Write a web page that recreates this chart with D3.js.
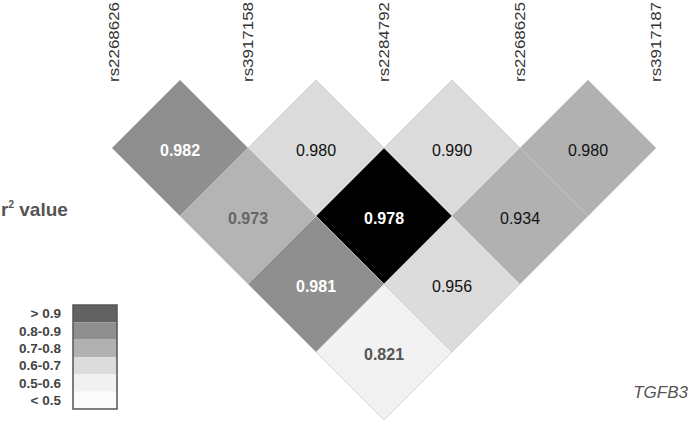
<!DOCTYPE html>
<html>
<head>
<meta charset="utf-8">
<script src="https://cdn.jsdelivr.net/npm/d3@7"></script>
<style>
  body { margin: 0; background: #fff; }
  svg { display: block; font-family: "Liberation Sans", Arial, sans-serif; }
</style>
</head>
<body>
<div id="chart"></div>
<script>
// SNP order along the top
const snps = ["rs2268626", "rs3917158", "rs2284792", "rs2268625", "rs3917187"];

// LD values, one list per distance (1 = neighbours)
const row1 = [0.982, 0.980, 0.990, 0.980];
const row2 = [0.973, 0.978, 0.934];
const row3 = [0.981, 0.956];
const row4 = [0.821];

// r2 shading of each cell, same layout
const shade1 = ["#8f8f8f", "#dcdcdc", "#dcdcdc", "#b1b1b1"];
const shade2 = ["#b4b4b4", "#000000", "#b1b1b1"];
const shade3 = ["#8f8f8f", "#dcdcdc"];
const shade4 = ["#f2f2f2"];

// value label colour in each cell
const ink1 = ["#ffffff", "#111111", "#111111", "#111111"];
const ink2 = ["#666666", "#ffffff", "#111111"];
const ink3 = ["#ffffff", "#111111"];
const ink4 = ["#555555"];

const legendLabels = ["> 0.9", "0.8-0.9", "0.7-0.8", "0.6-0.7", "0.5-0.6", "< 0.5"];
const legendShades = ["#626262", "#8f8f8f", "#b1b1b1", "#dcdcdc", "#f1f1f1", "#fbfbfb"];

const geneName = "TGFB3";

const width = 700, height = 424;

const svg = d3.select("#chart")
  .append("svg")
    .attr("width", width)
    .attr("height", height);

const x = d3.scalePoint()
  .domain(snps)
  .range([112, 656]);

const half = x.step() / 2;

// distance between the two snps -> centre y of the diamond
const y = d3.scaleLinear()
  .domain([1, 4])
  .range([148, 148 + 3 * half]);

const rows = [row1, row2, row3, row4];
const shades = [shade1, shade2, shade3, shade4];
const inks = [ink1, ink2, ink3, ink4];

const cells = [];
rows.forEach((vals, r) => {
  vals.forEach((v, i) => {
    cells.push({
      a: snps[i],
      b: snps[i + r + 1],
      dist: r + 1,
      value: v,
      fill: shades[r][i],
      ink: inks[r][i]
    });
  });
});

const diamond = d3.line()
  .x(d => d[0])
  .y(d => d[1]);

const cellG = svg.append("g").attr("class", "cells");

const cell = cellG.selectAll("g")
  .data(cells)
  .enter().append("g")
    .attr("transform", d => `translate(${(x(d.a) + x(d.b)) / 2}, ${y(d.dist)})`);

cell.append("path")
  .attr("d", diamond([[0, -half], [half, 0], [0, half], [-half, 0], [0, -half]]))
  .attr("fill", d => d.fill)
  .attr("stroke", "#c4c4c4")
  .attr("stroke-width", 0.7);

cell.append("text")
  .attr("text-anchor", "middle")
  .attr("y", 2)
  .attr("dy", "0.35em")
  .attr("font-size", 16)
  .attr("font-weight", d => d.ink === "#111111" ? "normal" : "bold")
  .attr("fill", d => d.ink)
  .text(d => d3.format(".3f")(d.value));

// snp names, rotated
svg.append("g")
  .attr("class", "snp-labels")
  .selectAll("text")
  .data(snps)
  .enter().append("text")
    .attr("transform", (d, i) => `translate(${x(d) + (i === 0 ? 2 : 0)}, 82) rotate(-90)`)
    .attr("dy", "0.35em")
    .attr("font-size", 14.5)
    .attr("textLength", 80)
    .attr("lengthAdjust", "spacingAndGlyphs")
    .attr("fill", "#333")
    .text(d => d);

// r2 value title
const title = svg.append("text")
  .attr("x", 1)
  .attr("y", 216)
  .attr("font-size", 19)
  .attr("font-weight", "bold")
  .attr("fill", "#555");
title.append("tspan").text("r");
title.append("tspan").attr("font-size", 10).attr("dy", -8).text("2");
title.append("tspan").attr("dy", 8).text(" value");

// legend
const ly = d3.scaleBand()
  .domain(legendLabels)
  .range([305, 409]);

const legend = svg.append("g").attr("class", "legend");

legend.selectAll("rect")
  .data(legendLabels)
  .enter().append("rect")
    .attr("x", 73)
    .attr("y", d => ly(d))
    .attr("width", 44)
    .attr("height", ly.bandwidth())
    .attr("fill", (d, i) => legendShades[i]);

legend.append("rect")
  .attr("x", 73)
  .attr("y", 305)
  .attr("width", 44)
  .attr("height", 104)
  .attr("fill", "none")
  .attr("stroke", "#555")
  .attr("stroke-width", 1.5);

legend.selectAll("text")
  .data(legendLabels)
  .enter().append("text")
    .attr("x", 61)
    .attr("y", d => ly(d) + ly.bandwidth() / 2)
    .attr("dy", "0.35em")
    .attr("text-anchor", "end")
    .attr("font-size", 13.5)
    .attr("font-weight", "bold")
    .attr("fill", "#444")
    .text(d => d);

svg.append("text")
  .attr("x", 688)
  .attr("y", 398)
  .attr("text-anchor", "end")
  .attr("font-size", 17)
  .attr("font-style", "italic")
  .attr("fill", "#555")
  .text(geneName);
</script>
</body>
</html>
